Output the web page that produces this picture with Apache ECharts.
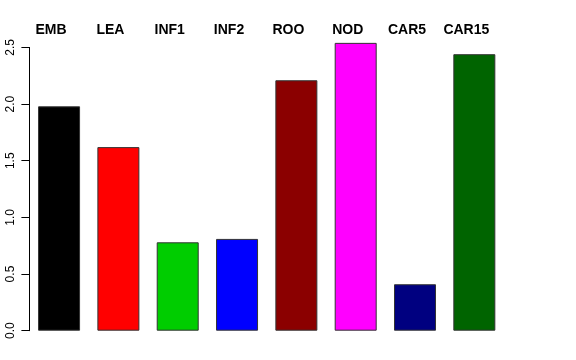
<!DOCTYPE html>
<html>
<head>
<meta charset="utf-8">
<script src="https://cdn.jsdelivr.net/npm/echarts@6/dist/echarts.min.js"></script>
<style>html,body{margin:0;padding:0;background:#fff}#c{width:576px;height:360px}</style>
</head>
<body>
<div id="c"></div>
<script>
const categories = ['EMB', 'LEA', 'INF1', 'INF2', 'ROO', 'NOD', 'CAR5', 'CAR15'];
const values = [1.98, 1.62, 0.78, 0.81, 2.21, 2.54, 0.41, 2.44];
const colors = ['#000000', '#FF0000', '#00CD00', '#0000FF', '#8B0000', '#FF00FF', '#000080', '#006400'];
const yTicks = [0, 0.5, 1.0, 1.5, 2.0, 2.5];

const chart = echarts.init(document.getElementById('c'), null, {renderer: 'canvas'});
chart.setOption({
  animation: false,
  backgroundColor: '#ffffff',
  grid: {left: 29.4, right: 72, top: 47.4, bottom: 29.3, containLabel: false},
  xAxis: {
    type: 'category',
    position: 'top',
    data: categories,
    axisLine: {show: false},
    axisTick: {show: false},
    axisLabel: {
      interval: 0,
      fontFamily: 'Liberation Sans, Arial, sans-serif',
      fontWeight: 'bold',
      fontSize: 14,
      color: '#000',
      margin: 10,
      padding: [0, 16, 0, 0]
    }
  },
  yAxis: {
    type: 'value',
    min: 0,
    max: 2.5,
    interval: 0.5,
    splitLine: {show: false},
    axisLine: {show: true, lineStyle: {color: '#000', width: 1}},
    axisTick: {show: true, length: 8, lineStyle: {color: '#000'}},
    axisLabel: {
      rotate: 90,
      fontFamily: 'Liberation Sans, Arial, sans-serif',
      fontSize: 12,
      color: '#000',
      margin: 13,
      formatter: v => yTicks.includes(v) ? v.toFixed(1) : ''
    }
  },
  series: [{
    type: 'bar',
    barWidth: 42,
    clip: false,
    data: values.map((v, i) => ({value: v, itemStyle: {color: colors[i]}})),
    itemStyle: {borderColor: '#333', borderWidth: 1}
  }]
});
</script>
</body>
</html>
